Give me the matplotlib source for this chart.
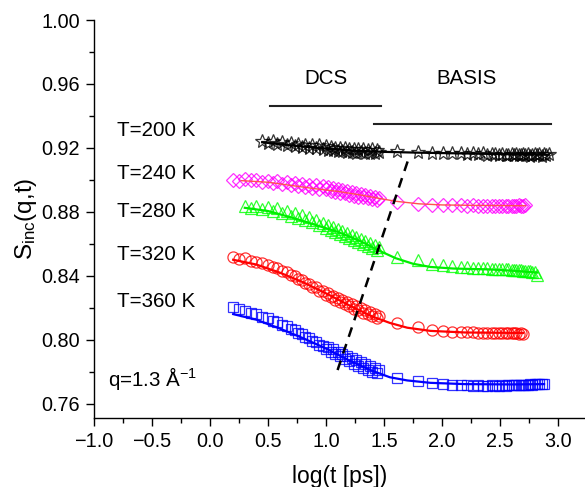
import matplotlib
matplotlib.use("Agg")
import matplotlib.pyplot as plt
from matplotlib.ticker import MultipleLocator

plt.rcParams['font.family'] = ['Liberation Sans', 'DejaVu Sans']
plt.rcParams['mathtext.fontset'] = 'custom'
plt.rcParams['mathtext.rm'] = 'Liberation Sans'
plt.rcParams['mathtext.it'] = 'Liberation Sans'

# ---------------- data ----------------
dcs_x = [0.20, 0.25, 0.30, 0.35, 0.40, 0.45, 0.50, 0.54, 0.58, 0.62, 0.66, 0.70, 0.73, 0.76, 0.79,
         0.82, 0.85, 0.88, 0.91, 0.94, 0.97, 1.00, 1.02, 1.04, 1.06, 1.08, 1.10, 1.12, 1.14, 1.16,
         1.18, 1.20, 1.22, 1.24, 1.26, 1.28, 1.30, 1.32, 1.34, 1.36, 1.38, 1.40, 1.42, 1.44, 1.46]
basis_x = [1.61, 1.79, 1.91, 2.01, 2.09, 2.16, 2.22, 2.27, 2.31, 2.35, 2.39, 2.43, 2.46, 2.49, 2.52,
           2.55, 2.57, 2.60, 2.62, 2.64, 2.66, 2.68, 2.70, 2.72, 2.74, 2.76, 2.78, 2.80, 2.82, 2.84,
           2.86, 2.88, 2.90, 2.92]

# T=200 K (DCS from 0.45)
dcs_200 = [0.9245, 0.9232, 0.9240, 0.9225, 0.9235, 0.9218, 0.9230, 0.9212, 0.9225, 0.9208,
           0.9220, 0.9202, 0.9218, 0.9198, 0.9215, 0.9192, 0.9210, 0.9188, 0.9205, 0.9185,
           0.9202, 0.9180, 0.9200, 0.9178, 0.9198, 0.9175, 0.9195, 0.9172, 0.9195, 0.9170,
           0.9192, 0.9172, 0.9190, 0.9168, 0.9188, 0.9170, 0.9190, 0.9168, 0.9185, 0.9172]
basis_200 = [0.9178, 0.9175, 0.9168, 0.9170, 0.9165, 0.9168, 0.9162, 0.9166, 0.9160, 0.9165,
             0.9158, 0.9163, 0.9160, 0.9157, 0.9162, 0.9158, 0.9155, 0.9160, 0.9156, 0.9162,
             0.9154, 0.9158, 0.9163, 0.9155, 0.9160, 0.9152, 0.9158, 0.9162, 0.9154, 0.9159,
             0.9152, 0.9160, 0.9156, 0.9162]
fit_200_x = [0.45, 0.70, 1.00, 1.30, 1.50, 1.80, 2.20, 2.60, 2.92]
fit_200_y = [0.9235, 0.9215, 0.9195, 0.9180, 0.9175, 0.9170, 0.9165, 0.9160, 0.9157]

# T=240 K
dcs_240 = [0.9000, 0.8992, 0.9003, 0.8996, 0.8999, 0.8988, 0.8994, 0.8982, 0.8990, 0.8976,
           0.8985, 0.8970, 0.8978, 0.8962, 0.8975, 0.8958, 0.8968, 0.8952, 0.8966, 0.8945,
           0.8960, 0.8940, 0.8955, 0.8932, 0.8948, 0.8925, 0.8942, 0.8918, 0.8938, 0.8915,
           0.8930, 0.8908, 0.8925, 0.8902, 0.8918, 0.8895, 0.8912, 0.8890, 0.8905, 0.8885,
           0.8898, 0.8880, 0.8892, 0.8875, 0.8888]
basis_240 = [0.8862, 0.8850, 0.8845, 0.8842, 0.8840, 0.8840, 0.8838, 0.8840, 0.8837, 0.8839,
             0.8838, 0.8836, 0.8839, 0.8837, 0.8838, 0.8836, 0.8839, 0.8837, 0.8838, 0.8836,
             0.8840, 0.8838, 0.8837, 0.8840]
fit_240_x = [0.27, 0.50, 0.70, 0.90, 1.10, 1.30, 1.45, 1.60, 1.80, 2.00, 2.30, 2.72]
fit_240_y = [0.8995, 0.8985, 0.8965, 0.8945, 0.8928, 0.8905, 0.8885, 0.8866, 0.8850, 0.8843, 0.8840, 0.8838]

# T=280 K (DCS from 0.30)
dcs_280 = [0.8835, 0.8822, 0.8838, 0.8815, 0.8830, 0.8805, 0.8822, 0.8795, 0.8808, 0.8775,
           0.8790, 0.8762, 0.8778, 0.8748, 0.8765, 0.8735, 0.8748, 0.8715, 0.8732, 0.8700,
           0.8718, 0.8688, 0.8705, 0.8672, 0.8690, 0.8660, 0.8680, 0.8648, 0.8665, 0.8635,
           0.8655, 0.8625, 0.8642, 0.8610, 0.8632, 0.8598, 0.8620, 0.8585, 0.8605, 0.8572,
           0.8590, 0.8560, 0.8578]
basis_280 = [0.8520, 0.8500, 0.8475, 0.8465, 0.8458, 0.8455, 0.8452, 0.8450, 0.8448, 0.8447,
             0.8446, 0.8445, 0.8444, 0.8443, 0.8442, 0.8441, 0.8440, 0.8438, 0.8437, 0.8436,
             0.8434, 0.8433, 0.8432, 0.8430, 0.8428, 0.8427, 0.8425, 0.8422, 0.8405]
fit_280_x = [0.30, 0.50, 0.70, 0.90, 1.10, 1.30, 1.45, 1.60, 1.75, 1.90, 2.10, 2.40, 2.60, 2.82]
fit_280_y = [0.8825, 0.8805, 0.8765, 0.8720, 0.8675, 0.8615, 0.8560, 0.8510, 0.8475, 0.8455,
             0.8445, 0.8440, 0.8432, 0.8420]

# T=320 K
dcs_320 = [0.8520, 0.8505, 0.8512, 0.8495, 0.8488, 0.8478, 0.8470, 0.8455, 0.8448, 0.8430,
           0.8425, 0.8405, 0.8398, 0.8380, 0.8372, 0.8355, 0.8350, 0.8330, 0.8328, 0.8305,
           0.8302, 0.8280, 0.8290, 0.8268, 0.8275, 0.8250, 0.8262, 0.8238, 0.8250, 0.8225,
           0.8235, 0.8208, 0.8225, 0.8195, 0.8212, 0.8185, 0.8200, 0.8170, 0.8188, 0.8160,
           0.8175, 0.8148, 0.8162, 0.8135, 0.8150]
basis_320 = [0.8106, 0.8080, 0.8062, 0.8055, 0.8050, 0.8048, 0.8046, 0.8045, 0.8044, 0.8043,
             0.8042, 0.8041, 0.8040, 0.8041, 0.8039, 0.8040, 0.8041, 0.8039, 0.8042, 0.8040,
             0.8038, 0.8041, 0.8036]
fit_320_x = [0.20, 0.40, 0.60, 0.80, 1.00, 1.20, 1.40, 1.55, 1.70, 1.90, 2.20, 2.70]
fit_320_y = [0.8500, 0.8470, 0.8420, 0.8360, 0.8290, 0.8215, 0.8145, 0.8105, 0.8075, 0.8055,
             0.8045, 0.8042]

# T=360 K
dcs_360 = [0.8205, 0.8195, 0.8182, 0.8170, 0.8160, 0.8140, 0.8135, 0.8115, 0.8110, 0.8090,
           0.8085, 0.8065, 0.8058, 0.8040, 0.8035, 0.8015, 0.8010, 0.7990, 0.7985, 0.7965,
           0.7960, 0.7940, 0.7952, 0.7925, 0.7940, 0.7910, 0.7925, 0.7895, 0.7912, 0.7880,
           0.7900, 0.7865, 0.7885, 0.7850, 0.7872, 0.7838, 0.7860, 0.7825, 0.7848, 0.7812,
           0.7835, 0.7800, 0.7822, 0.7790, 0.7812]
basis_360 = [0.7760, 0.7742, 0.7730, 0.7722, 0.7718, 0.7715, 0.7714, 0.7712, 0.7715, 0.7713,
             0.7712, 0.7714, 0.7713, 0.7712, 0.7714, 0.7713, 0.7715, 0.7714, 0.7716, 0.7715,
             0.7717, 0.7716, 0.7718, 0.7717, 0.7719, 0.7720, 0.7718, 0.7721, 0.7722, 0.7720,
             0.7725, 0.7722]
fit_360_x = [0.20, 0.40, 0.60, 0.80, 1.00, 1.20, 1.40, 1.55, 1.70, 1.90, 2.20, 2.60, 2.88]
fit_360_y = [0.8160, 0.8125, 0.8070, 0.8010, 0.7945, 0.7870, 0.7805, 0.7765, 0.7745, 0.7730,
             0.7722, 0.7720, 0.7722]

series = [
    ("T=200 K", dcs_200, basis_200, fit_200_x, fit_200_y, 'black', '*', 'black', 0.9306),
    ("T=240 K", dcs_240, basis_240, fit_240_x, fit_240_y, '#FF00FF', 'D', '#FF5050', 0.9040),
    ("T=280 K", dcs_280, basis_280, fit_280_x, fit_280_y, '#00FF00', '^', '#00EE00', 0.8800),
    ("T=320 K", dcs_320, basis_320, fit_320_x, fit_320_y, '#FF0000', 'o', '#FF0000', 0.8530),
    ("T=360 K", dcs_360, basis_360, fit_360_x, fit_360_y, '#0000FF', 's', '#0000FF', 0.8240),
]

divider_x = [1.10, 1.72]
divider_y = [0.781, 0.915]

# ---------------- figure ----------------
fig = plt.figure(figsize=(5.85, 4.87), dpi=100)
ax = fig.add_axes([94/585, 1-418/487, 1-94/585, (418-20)/487])

msizes = {'*': 10, 'D': 7.5, '^': 8.5, 'o': 8, 's': 7}
for label, dcs_y, bas_y, fx, fy, col, mk, fcol, ty in series:
    xd = dcs_x[-len(dcs_y):]
    xb = basis_x[:len(bas_y)]
    ax.plot(xd + xb, dcs_y + bas_y, linestyle='none', marker=mk, markersize=msizes[mk],
            markerfacecolor='none', markeredgecolor=col, markeredgewidth=0.9, alpha=0.8, zorder=3)
    lw = 1.0 if mk == 'D' else 1.6
    ax.plot(fx, fy, color=fcol, lw=lw, zorder=4)
    ax.text(-0.80, ty, label, fontsize=14.8, ha='left', va='center')

ax.plot(divider_x, divider_y, color='black', lw=1.8, linestyle=(0, (4, 3)), zorder=5)

ax.plot([0.517, 1.474], [0.946, 0.946], color='#222222', lw=1.5)
ax.plot([1.414, 2.94], [0.935, 0.935], color='#222222', lw=1.5)
ax.text(1.0, 0.9635, "DCS", fontsize=14.8, ha='center', va='center')
ax.text(2.21, 0.9635, "BASIS", fontsize=14.8, ha='center', va='center')
ax.text(-0.88, 0.776, "q=1.3 Å$^{-1}$", fontsize=14.8, ha='left', va='center')

ax.set_xlim(-1.0, 3.233)
ax.set_ylim(0.751, 1.0)
ax.set_xticks([-1.0, -0.5, 0.0, 0.5, 1.0, 1.5, 2.0, 2.5, 3.0])
ax.set_xticklabels(["\u22121.0", "\u22120.5", "0.0", "0.5", "1.0", "1.5", "2.0", "2.5", "3.0"])
ax.xaxis.set_minor_locator(MultipleLocator(0.25))
ax.set_yticks([0.76, 0.80, 0.84, 0.88, 0.92, 0.96, 1.00])
ax.yaxis.set_minor_locator(MultipleLocator(0.02))
ax.tick_params(which='major', direction='out', length=6, width=1, labelsize=14.3, pad=4)
ax.tick_params(which='minor', direction='out', length=3.5, width=1)
for s in ['top', 'right']:
    ax.spines[s].set_visible(False)
for s in ['left', 'bottom']:
    ax.spines[s].set_linewidth(1.0)

ax.set_xlabel("log(t [ps])", fontsize=16.5, labelpad=10)
ax.set_ylabel("S$_{\\rm inc}$(q,t)", fontsize=17.5, labelpad=2)

fig.savefig("out.png", dpi=100)
